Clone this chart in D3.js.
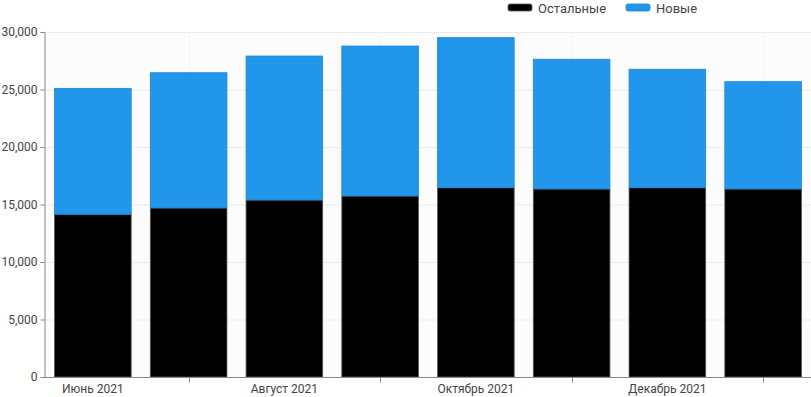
<!DOCTYPE html>
<html><head><meta charset="utf-8">
<script src="https://cdn.jsdelivr.net/npm/d3@7"></script>
<style>
html,body{margin:0;padding:0;background:#fff;}
svg{display:block;font-family:Roboto,"Noto Sans",sans-serif;}
</style></head>
<body>
<svg id="chart" width="811" height="397"></svg>
<script>
const months = ["Июнь 2021","Июль 2021","Август 2021","Сентябрь 2021","Октябрь 2021","Ноябрь 2021","Декабрь 2021","Январь 2022"];
const showLabel = [true,false,true,false,true,false,true,false];
const other = [14150,14700,15390,15740,16460,16350,16460,16350];
const newer = [10950,11760,12520,13040,13050,11280,10300,9330];
const seriesNames = ["Остальные","Новые"];
const seriesColors = ["#000000","#2196ea"];
const seriesStroke = ["#555555","#1a86d6"];
const yTicks = [0,5000,10000,15000,20000,25000,30000];

const svg = d3.select("#chart");
const m = {left:44, right:0, top:32, bottom:20};
const W = 811, H = 397;
const x = d3.scaleBand().domain(months).range([m.left+1, W]).paddingInner(0.2).paddingOuter(0.1);
const y = d3.scaleLinear().domain([0,30000]).range([377, m.top]);

svg.append("rect").attr("x",m.left).attr("y",m.top).attr("width",W-m.left).attr("height",377-m.top).attr("fill","#fcfcfc");

svg.append("g").selectAll("line").data(yTicks).join("line")
  .attr("x1",m.left).attr("x2",W).attr("y1",d=>y(d)+0.5).attr("y2",d=>y(d)+0.5)
  .attr("stroke","#ececec");
svg.append("g").selectAll("line").data(months.filter((d,i)=>!showLabel[i])).join("line")
  .attr("x1",d=>Math.round(x(d)+x.bandwidth()/2)+0.5).attr("x2",d=>Math.round(x(d)+x.bandwidth()/2)+0.5)
  .attr("y1",m.top).attr("y2",377).attr("stroke","#eeeeee").attr("stroke-dasharray","2,2");

const data = months.map((mo,i)=>({month:mo, other:other[i], newer:newer[i]}));
const stack = d3.stack().keys(["other","newer"])(data);
svg.append("g").selectAll("g").data(stack).join("g")
  .attr("fill",(d,i)=>seriesColors[i]).attr("stroke",(d,i)=>seriesStroke[i]).attr("stroke-width",0.8)
  .selectAll("rect").data(d=>d).join("rect")
  .attr("x",d=>x(d.data.month)).attr("width",x.bandwidth())
  .attr("y",d=>y(d[1])).attr("height",d=>y(d[0])-y(d[1]));

const yAxis = d3.axisLeft(y).tickValues(yTicks).tickSize(4).tickPadding(3).tickFormat(d3.format(","));
const gy = svg.append("g").attr("transform",`translate(${m.left+0.5},0)`).call(yAxis);
gy.select(".domain").attr("stroke","#888");
gy.selectAll(".tick line").attr("stroke","#888");
gy.selectAll("text").attr("fill","#444").style("font-size","12px").style("font-family","Roboto, sans-serif");

const gx = svg.append("g").attr("transform",`translate(0,${377.5})`);
gx.append("line").attr("x1",m.left).attr("x2",W).attr("stroke","#888");
gx.selectAll("line.tk").data(months.filter((d,i)=>!showLabel[i])).join("line").attr("class","tk")
  .attr("x1",d=>Math.round(x(d)+x.bandwidth()/2)+0.5).attr("x2",d=>Math.round(x(d)+x.bandwidth()/2)+0.5)
  .attr("y1",0).attr("y2",5).attr("stroke","#888");
gx.selectAll("text").data(months.filter((d,i)=>showLabel[i])).join("text")
  .attr("x",d=>x(d)+x.bandwidth()/2).attr("y",15.5).attr("text-anchor","middle")
  .attr("fill","#444").style("font-size","12px").text(d=>d);

const legend = svg.append("g");
const lx = [508, 626];
seriesNames.forEach((n,i)=>{
  legend.append("rect").attr("x",lx[i]).attr("y",4).attr("width",24).attr("height",7).attr("rx",2)
    .attr("fill",seriesColors[i]).attr("stroke",seriesStroke[i]).attr("stroke-width",0.8);
  legend.append("text").attr("x",lx[i]+30).attr("y",12.5).attr("fill","#444")
    .style("font-size","13px").text(n);
});
</script>
</body></html>
